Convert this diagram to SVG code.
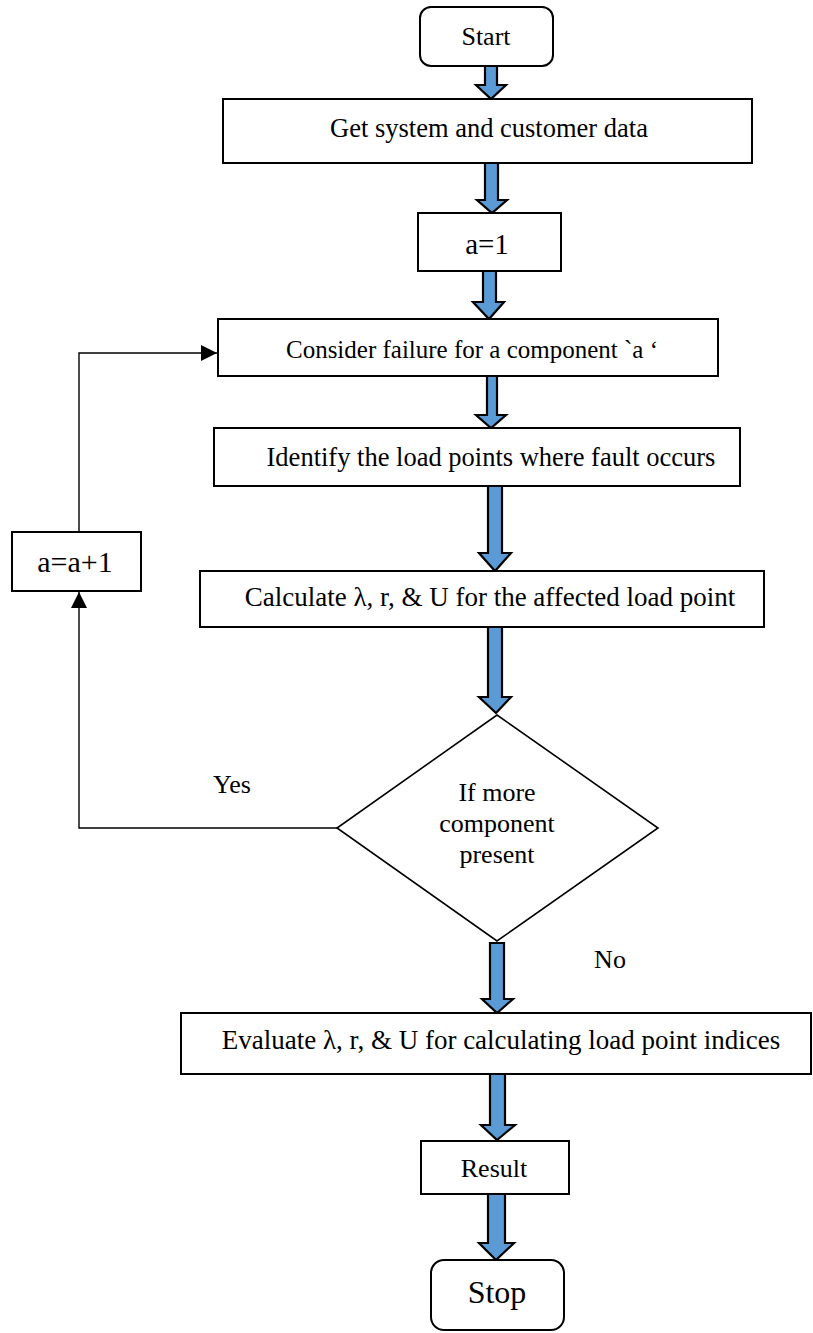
<svg xmlns="http://www.w3.org/2000/svg" width="813" height="1333" viewBox="0 0 813 1333">
<defs>
<style>
.box{fill:#fff;stroke:#000;stroke-width:2}
.dia{fill:#fff;stroke:#000;stroke-width:1.6}
.blk{fill:#5B9BD5;stroke:#000;stroke-width:2.2;stroke-linejoin:miter}
.ln{fill:none;stroke:#000;stroke-width:1.4}
text{font-family:"Liberation Serif","Times New Roman",serif;fill:#000;text-anchor:middle}
</style>
<marker id="ah" viewBox="0 0 10 10" refX="10" refY="5" markerWidth="16" markerHeight="16" markerUnits="userSpaceOnUse" orient="auto">
<path d="M0,0 L10,5 L0,10 Z" fill="#000"/>
</marker>
</defs>
<rect width="813" height="1333" fill="#fff"/>
<g id="connectors">
<polygon class="blk" points="485,66 497,66 497,85 506,85 491,99 476,85 485,85"/>
<polygon class="blk" points="485,163 498,163 498,200 507,200 492,213 477,200 485,200"/>
<polygon class="blk" points="483,271 496,271 496,302 504,302 489,319 473,302 483,302"/>
<polygon class="blk" points="487,376 497,376 497,415 506,415 491,428 476,415 487,415"/>
<polygon class="blk" points="488,486 502,486 502,553 511,553 495,571 479,553 488,553"/>
<polygon class="blk" points="488,627 502,627 502,697 511,697 496,713 479,697 488,697"/>
<polygon class="blk" points="490,943 504,943 504,999 513,999 497,1013 482,999 490,999"/>
<polygon class="blk" points="490,1074 505,1074 505,1125 515,1125 497,1140 481,1125 490,1125"/>
<polygon class="blk" points="488,1194 505,1194 505,1243 514,1243 496,1260 479,1243 488,1243"/>
<polyline class="ln" points="337,828 79,828 79,592" marker-end="url(#ah)"/>
<polyline class="ln" points="79,532 79,353 217,353" marker-end="url(#ah)"/>
<text x="232" y="793" font-size="26">Yes</text>
<text x="610" y="968" font-size="26">No</text>
</g>
<g id="start">
<rect class="box" x="420" y="7" width="133" height="59" rx="11"/>
<text x="486" y="45" font-size="26">Start</text>
</g>
<g id="get-data">
<rect class="box" x="223" y="99" width="529" height="64"/>
<text x="489" y="137" font-size="26.5">Get system and customer data</text>
</g>
<g id="a-init">
<rect class="box" x="418" y="213" width="143" height="58"/>
<text x="487" y="254" font-size="29">a=1</text>
</g>
<g id="consider">
<rect class="box" x="218" y="319" width="500" height="57"/>
<text x="472" y="358" font-size="25">Consider failure for a component `a ‘</text>
</g>
<g id="identify">
<rect class="box" x="214" y="428" width="526" height="58"/>
<text x="491" y="466" font-size="26.5">Identify the load points where fault occurs</text>
</g>
<g id="calculate">
<rect class="box" x="200" y="571" width="564" height="56"/>
<text x="490" y="606" font-size="27">Calculate λ, r, &amp; U for the affected load point</text>
</g>
<g id="decision">
<polygon class="dia" points="497,715 658,828 497,941 337,828"/>
<text x="497" y="801" font-size="26">If more</text>
<text x="497" y="832" font-size="26">component</text>
<text x="497" y="863" font-size="26">present</text>
</g>
<g id="increment">
<rect class="box" x="12" y="532" width="129" height="59"/>
<text x="75" y="572" font-size="30">a=a+1</text>
</g>
<g id="evaluate">
<rect class="box" x="181" y="1013" width="630" height="61"/>
<text x="501" y="1049" font-size="27">Evaluate λ, r, &amp; U for calculating load point indices</text>
</g>
<g id="result">
<rect class="box" x="421" y="1141" width="148" height="53"/>
<text x="494" y="1177" font-size="26">Result</text>
</g>
<g id="stop">
<rect class="box" x="431" y="1260" width="133" height="70" rx="13"/>
<text x="497" y="1303" font-size="32">Stop</text>
</g>
</svg>
